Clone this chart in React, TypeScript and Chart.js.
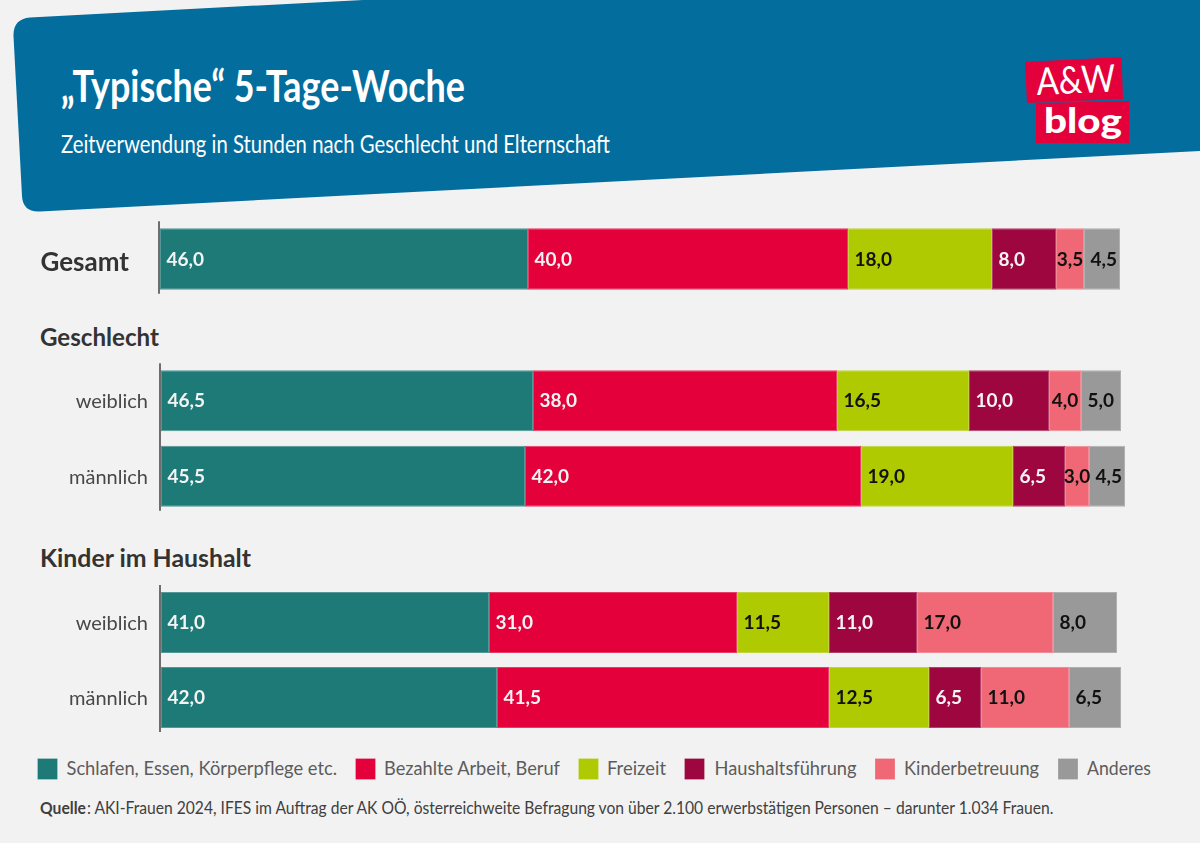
import { useEffect, useRef } from 'react'
import { Chart, registerables } from 'chart.js'

Chart.register(...registerables)

const seriesNames = ['Schlafen, Essen, Körperpflege etc.', 'Bezahlte Arbeit, Beruf', 'Freizeit', 'Haushaltsführung', 'Kinderbetreuung', 'Anderes']
const seriesColors = ['#1d7a77', '#e4003a', '#afca00', '#9e063f', '#f06775', '#999999']
const seriesEdges = ['rgba(29,122,119,.75)', 'rgba(228,0,58,.75)', 'rgba(175,202,0,.75)', 'rgba(158,6,63,.75)', 'rgba(240,103,117,.75)', 'rgba(153,153,153,.75)']
const labelColors = ['#f4f4f4', '#f4f4f4', '#111', '#f4f4f4', '#111', '#111']

const gesamtLabels = ['Gesamt']
const gesamt = [46.0, 40.0, 18.0, 8.0, 3.5, 4.5]

const geschlechtLabels = ['weiblich', 'männlich']
const geschlechtWeiblich = [46.5, 38.0, 16.5, 10.0, 4.0, 5.0]
const geschlechtMaennlich = [45.5, 42.0, 19.0, 6.5, 3.0, 4.5]

const kinderLabels = ['weiblich', 'männlich']
const kinderWeiblich = [41.0, 31.0, 11.5, 11.0, 17.0, 8.0]
const kinderMaennlich = [42.0, 41.5, 12.5, 6.5, 11.0, 6.5]

const font = 'Lato, "Open Sans", sans-serif'
const narrow = '"Liberation Sans Narrow", Lato, sans-serif'

// draws the value into each segment, centred when the segment is too tight
const segmentLabels = {
  id: 'segmentLabels',
  afterDatasetsDraw(chart: Chart) {
    const { ctx } = chart
    ctx.save()
    ctx.font = `700 19px ${font}`
    ctx.textBaseline = 'alphabetic'
    ctx.textAlign = 'left'
    chart.data.datasets.forEach((ds, s) => {
      chart.getDatasetMeta(s).data.forEach((bar: any, i) => {
        const text = (ds.data[i] as number).toFixed(1).replace('.', ',')
        const w = Math.abs(bar.x - bar.base)
        const tw = ctx.measureText(text).width
        const x = w < 35 ? bar.base + (w - tw) / 2 : bar.base + 6.5
        ctx.fillStyle = labelColors[s]
        ctx.fillText(text, x, bar.y + 6.5)
      })
    })
    ctx.restore()
  },
}

// the dark axis rule sticks out a little further above the bars than below
const axisRule = {
  id: 'axisRule',
  afterDatasetsDraw(chart: Chart) {
    const bars: any[] = chart.getDatasetMeta(0).data
    const first = bars[0]
    const last = bars[bars.length - 1]
    const { ctx, chartArea } = chart
    ctx.save()
    ctx.strokeStyle = '#6e6e6e'
    ctx.lineWidth = 2
    ctx.beginPath()
    ctx.moveTo(chartArea.left - 1, first.y - first.height / 2 - 7)
    ctx.lineTo(chartArea.left - 1, last.y + last.height / 2 + 4)
    ctx.stroke()
    ctx.restore()
  },
}

type GroupProps = {
  labels: string[]
  rows: number[][]
  top: number
  height: number
  barShare: number
  axisWidth: number
  tickFont: { family: string; size: number; weight: any }
  tickColor: string
  tickPadding: number
  tickShift: number
}

function GroupChart({ labels, rows, top, height, barShare, axisWidth, tickFont, tickColor, tickPadding, tickShift }: GroupProps) {
  const ref = useRef<HTMLCanvasElement>(null)

  useEffect(() => {
    const chart = new Chart(ref.current!, {
      type: 'bar',
      data: {
        labels,
        datasets: seriesNames.map((name, s) => ({
          label: name,
          data: rows.map(r => r[s]),
          backgroundColor: seriesColors[s],
          borderColor: seriesEdges[s],
          borderWidth: 1,
          borderSkipped: false,
          barPercentage: 1,
          categoryPercentage: barShare,
        })),
      },
      options: {
        indexAxis: 'y',
        responsive: false,
        animation: false,
        // 8 px per hour: 1000 px wide plot for an axis running to 125
        layout: { padding: { right: 1200 - axisWidth - 1000 } },
        plugins: { legend: { display: false }, tooltip: { enabled: false } },
        scales: {
          x: { stacked: true, min: 0, max: 125, display: false },
          y: {
            stacked: true,
            grid: { display: false, drawTicks: false },
            border: { display: false },
            ticks: { font: tickFont, color: tickColor, padding: tickPadding, labelOffset: tickShift },
            // keep the tick labels from eating into the plot height
            afterFit(scale: any) {
              scale.width = axisWidth
              scale.paddingTop = 0
              scale.paddingBottom = 0
              scale._margins.top = 0
              scale._margins.bottom = 0
            },
          },
        },
      },
      plugins: [segmentLabels, axisRule],
    })
    return () => chart.destroy()
  }, [])

  return <canvas ref={ref} width={1200} height={height} style={{ position: 'absolute', left: 0, top }} />
}

const legendSwatchX = [38, 356, 579, 685, 875.5, 1058.5]
const legendTextX = [66.5, 384, 607, 714.5, 904, 1087]
const legendTextW = [270.5, 176, 59, 142, 135, 64]

export default function App() {
  return (
    <div style={{ position: 'relative', width: 1200, height: 843, background: '#f2f2f2', overflow: 'hidden' }}>
      <style>{'body{margin:0}'}</style>
      <svg width={1200} height={843} style={{ position: 'absolute', left: 0, top: 0 }}>
        <path d="M363 0 L1200 0 L1200 151 L40 211.5 Q23 212.5 22 196 L13.5 36 Q13 19 30 17.5 Z" fill="#036d9e" />
        <text x={61} y={102} fontFamily={narrow} fontWeight={700} fontSize={44} fill="#fff" textLength={404} lengthAdjust="spacingAndGlyphs">„Typische“ 5-Tage-Woche</text>
        <text x={61} y={153} fontFamily={narrow} fontSize={25} fill="#fff" textLength={549} lengthAdjust="spacingAndGlyphs">Zeitverwendung in Stunden nach Geschlecht und Elternschaft</text>

        <polygon points="1025,62 1121.5,57 1123,99 1027,103" fill="#e4003a" />
        <polygon points="1036,103 1129,101 1129,143 1036,143" fill="#e4003a" />
        <text x={1037} y={95} transform="rotate(-2.5 1037 95)" fontFamily={font} fontSize={38} fill="#fff" textLength={79} lengthAdjust="spacingAndGlyphs">A&amp;W</text>
        <text x={1044} y={133} fontFamily={font} fontWeight={900} fontSize={34} fill="#fff" textLength={78} lengthAdjust="spacingAndGlyphs">blog</text>

        <text x={40} y={346} fontFamily={font} fontWeight={700} fontSize={25} fill="#333" textLength={119} lengthAdjust="spacingAndGlyphs">Geschlecht</text>
        <text x={40} y={567} fontFamily={font} fontWeight={700} fontSize={25} fill="#333" textLength={211} lengthAdjust="spacingAndGlyphs">Kinder im Haushalt</text>

        {seriesNames.map((name, s) => (
          <g key={name}>
            <rect x={legendSwatchX[s]} y={759} width={19} height={20} fill={seriesColors[s]} stroke={seriesEdges[s]} />
            <text x={legendTextX[s]} y={775} fontFamily={font} fontSize={18.5} fill="#5c5c5c" textLength={legendTextW[s]} lengthAdjust="spacingAndGlyphs">{name}</text>
          </g>
        ))}

        <text x={40} y={814} fontFamily={font} fontWeight={700} fontSize={17} fill="#404040" textLength={46} lengthAdjust="spacingAndGlyphs">Quelle</text>
        <text x={87} y={814} fontFamily={font} fontSize={17} fill="#404040" textLength={966.5} lengthAdjust="spacingAndGlyphs">: AKI-Frauen 2024, IFES im Auftrag der AK OÖ, österreichweite Befragung von über 2.100 erwerbstätigen Personen – darunter 1.034 Frauen.</text>
      </svg>

      <GroupChart
        labels={gesamtLabels}
        rows={[gesamt]}
        top={221}
        height={76}
        barShare={61.5 / 76}
        axisWidth={160}
        tickFont={{ family: font, size: 26, weight: 700 }}
        tickColor="#333"
        tickPadding={31}
        tickShift={4}
      />
      <GroupChart
        labels={geschlechtLabels}
        rows={[geschlechtWeiblich, geschlechtMaennlich]}
        top={363}
        height={151}
        barShare={61 / 75.5}
        axisWidth={161}
        tickFont={{ family: font, size: 20, weight: 400 }}
        tickColor="#484848"
        tickPadding={13}
        tickShift={1}
      />
      <GroupChart
        labels={kinderLabels}
        rows={[kinderWeiblich, kinderMaennlich]}
        top={585}
        height={150}
        barShare={61 / 75}
        axisWidth={161}
        tickFont={{ family: font, size: 20, weight: 400 }}
        tickColor="#484848"
        tickPadding={13}
        tickShift={1.5}
      />
    </div>
  )
}
